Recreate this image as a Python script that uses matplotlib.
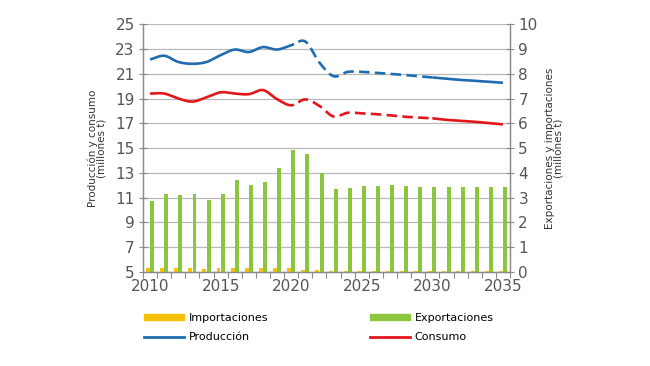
import numpy as np
import matplotlib
matplotlib.use("Agg")
import matplotlib.pyplot as plt
from matplotlib.patches import Patch
from matplotlib.lines import Line2D

years = list(range(2010, 2036))
produccion = [22.15, 22.45, 21.95, 21.8, 21.95, 22.5, 22.95, 22.75, 23.15, 22.95, 23.3,
              23.6, 21.9, 20.8, 21.15, 21.15, 21.07, 21.0, 20.9, 20.8, 20.7, 20.6, 20.5,
              20.43, 20.35, 20.27]
consumo = [19.4, 19.4, 19.0, 18.75, 19.1, 19.5, 19.4, 19.35, 19.68, 18.95, 18.45,
           18.93, 18.4, 17.55, 17.85, 17.8, 17.74, 17.64, 17.53, 17.47, 17.4, 17.28,
           17.2, 17.12, 17.02, 16.91]
exportaciones = [2.86, 3.14, 3.10, 3.14, 2.90, 3.16, 3.71, 3.52, 3.62, 4.19, 4.92,
                 4.76, 3.99, 3.35, 3.39, 3.46, 3.46, 3.50, 3.47, 3.44, 3.41, 3.41,
                 3.41, 3.41, 3.41, 3.41]
importaciones = [0.15, 0.15, 0.15, 0.15, 0.14, 0.15, 0.15, 0.15, 0.16, 0.16, 0.15,
                 0.08, 0.08, 0.06, 0.06, 0.06, 0.06, 0.06, 0.06, 0.06, 0.06, 0.06,
                 0.06, 0.06, 0.06, 0.06]
xtick_labels = ["2010", "2015", "2020", "2025", "2030", "2035"]

C_BLUE = "#1f6db0"
C_RED = "#e3161b"
C_GREEN = "#8cc63e"
C_YELLOW = "#f7c10a"
C_GRID = "#b9b9b9"
C_TXT = "#555555"


def smooth(x, y, n=20):
    x = np.asarray(x, float)
    y = np.asarray(y, float)
    px = np.concatenate([[2 * x[0] - x[1]], x, [2 * x[-1] - x[-2]]])
    py = np.concatenate([[2 * y[0] - y[1]], y, [2 * y[-1] - y[-2]]])
    xs, ys = [], []
    for i in range(1, len(px) - 2):
        t = np.linspace(0, 1, n, endpoint=False)
        for arr, out in ((px, xs), (py, ys)):
            p0, p1, p2, p3 = arr[i - 1], arr[i], arr[i + 1], arr[i + 2]
            out.append(0.5 * ((2 * p1) + (-p0 + p2) * t
                              + (2 * p0 - 5 * p1 + 4 * p2 - p3) * t ** 2
                              + (-p0 + 3 * p1 - 3 * p2 + p3) * t ** 3))
    xs = np.concatenate(xs + [[x[-1]]])
    ys = np.concatenate(ys + [[y[-1]]])
    return xs, ys


fig = plt.figure(figsize=(6.5, 3.66), dpi=100)
axr = fig.add_axes([0.22, 0.2568, 0.5646, 0.6772])
axl = axr.twinx()
axl.yaxis.set_label_position("left")
axl.yaxis.tick_left()
axr.yaxis.set_label_position("right")
axr.yaxis.tick_right()
axl.set_zorder(axr.get_zorder() + 1)
axl.patch.set_visible(False)

x = np.array(years, float)
w = 0.28
axr.bar(x - 0.15, importaciones, width=w, color=C_YELLOW, zorder=3)
axr.bar(x + 0.15, exportaciones, width=w, color=C_GREEN, zorder=3)
axr.set_ylim(0, 10)
axr.set_yticks(range(0, 11))
axr.yaxis.grid(True, color=C_GRID, lw=0.9, zorder=0)
axr.set_axisbelow(True)

lw = 1.9
for vals, col in ((produccion, C_BLUE), (consumo, C_RED)):
    xs, ys = smooth(x, vals)
    m1 = xs <= 2020.2
    m2 = (xs >= 2020.5) & (xs <= 2030.0)
    m3 = xs >= 2030.0
    axl.plot(xs[m1], ys[m1], color=col, lw=lw, solid_capstyle="butt")
    axl.plot(xs[m2], ys[m2], color=col, lw=lw, dashes=(4.0, 2.0), dash_capstyle="butt")
    axl.plot(xs[m3], ys[m3], color=col, lw=lw, solid_capstyle="butt")
axl.set_ylim(5, 25)
axl.set_yticks(range(5, 26, 2))

for a in (axl, axr):
    a.set_xlim(2009.5, 2035.5)
    for s in a.spines.values():
        s.set_color("#8a8a8a")
        s.set_linewidth(0.9)
    a.spines["top"].set_visible(False)

axl.tick_params(axis="y", direction="inout", length=6, color="#8a8a8a",
                labelsize=11, labelcolor=C_TXT, pad=3)
axr.tick_params(axis="y", direction="inout", length=6, color="#8a8a8a",
                labelsize=11, labelcolor=C_TXT, pad=3)

axr.set_xticks(np.arange(2009.5, 2036, 1.0))
axr.set_xticklabels([])
axr.tick_params(axis="x", direction="out", length=4, color="#8a8a8a")
axr.set_xticks([int(s) for s in xtick_labels], minor=True)
axr.set_xticklabels(xtick_labels, minor=True)
axr.tick_params(axis="x", which="minor", length=0, labelsize=11,
                labelcolor=C_TXT, pad=5)
axl.tick_params(axis="x", which="both", bottom=False, labelbottom=False)

axl.set_ylabel("Producción y consumo\n(millones t)", fontsize=7.5,
               color="#333333", linespacing=0.9, labelpad=6)
axr.set_ylabel("Exportaciones y importaciones\n(millones t)", fontsize=7.5,
               color="#333333", linespacing=0.9, rotation=90, labelpad=5)

handles = [Patch(color=C_YELLOW), Line2D([], [], color=C_BLUE, lw=2),
           Patch(color=C_GREEN), Line2D([], [], color=C_RED, lw=2)]
labels = ["Importaciones", "Producción", "Exportaciones", "Consumo"]
fig.legend(handles, labels, ncol=2, loc="upper left",
           bbox_to_anchor=(0.215, 0.158), frameon=False, fontsize=8,
           handlelength=3.6, handleheight=0.45, handletextpad=0.4,
           columnspacing=9.2, labelspacing=0.85, borderaxespad=0)

fig.savefig("out.png", dpi=100)
